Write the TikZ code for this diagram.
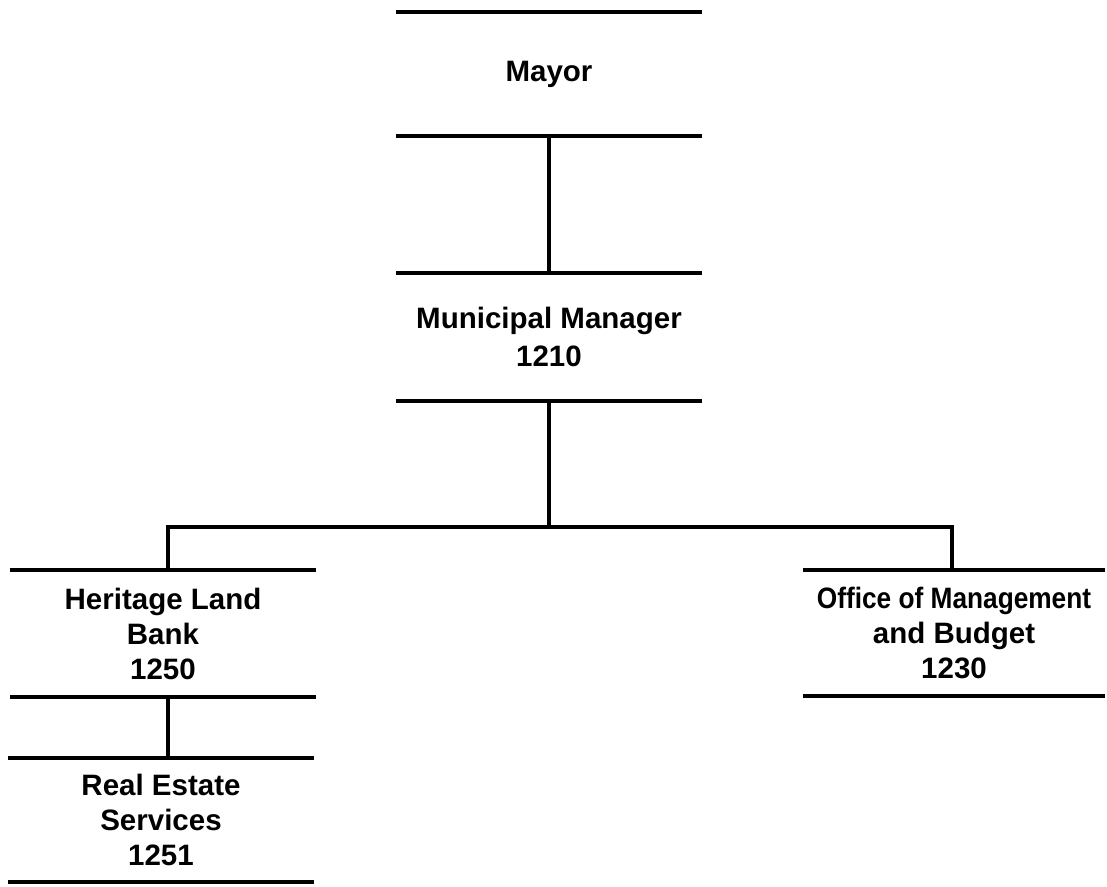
\documentclass[tikz,border=0pt]{standalone}
\usepackage{fontspec}
\setmainfont{Liberation Sans}
\usepackage{graphicx}
\tikzset{
  orgbox/.style={draw=none, minimum width=306pt, minimum height=125pt, inner sep=0pt,
    align=center, font=\fontsize{29.5}{35}\selectfont\bfseries},
  rule/.style={line width=3.6pt, line cap=butt},
  conn/.style={line width=3.6pt}
}
\begin{document}
\begin{tikzpicture}[x=1pt,y=-1pt]
\useasboundingbox (0,0) rectangle (1107,886);
\node[orgbox, minimum height=124pt] (mayor) at (549,74) {Mayor};
\node[orgbox, minimum height=128pt, font=\fontsize{29.5}{38}\selectfont\bfseries] (mm) at (549,337) {Municipal Manager\\1210};
\node[orgbox, minimum height=127pt] (hlb) at (163,633.5) {Heritage Land\\Bank\\1250};
\node[orgbox, minimum width=302pt, minimum height=126pt] (omb) at (954,633) {\scalebox{0.89}[1]{Office of Management}\\and Budget\\1230};
\node[orgbox, minimum width=305pt, minimum height=124pt] (res) at (161,820) {Real Estate\\Services\\1251};
\foreach \n in {mayor,mm,hlb,omb,res} {
  \draw[rule] (\n.north west) -- (\n.north east);
  \draw[rule] (\n.south west) -- (\n.south east);
}
\coordinate (j) at (549,527);
\coordinate (jl) at (168,527);
\coordinate (jr) at (952,527);
\draw[conn] (mayor.south) -- (mayor.south |- mm.north);
\draw[conn] (mm.south) -- (j);
\draw[conn] (jl |- hlb.north) -- (jl) -- (jr) -- (jr |- omb.north);
\draw[conn] (jl |- hlb.south) -- (jl |- res.north);
\end{tikzpicture}
\end{document}
